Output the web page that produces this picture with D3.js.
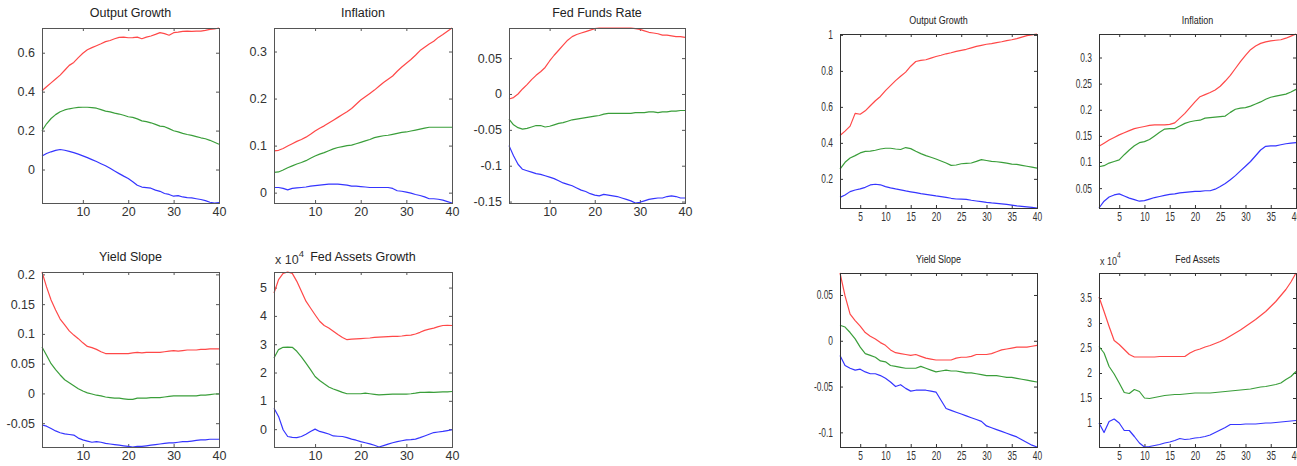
<!DOCTYPE html>
<html>
<head>
<meta charset="utf-8">
<script src="https://cdn.jsdelivr.net/npm/d3@7/dist/d3.min.js"></script>
<style>
  html, body { margin: 0; padding: 0; background: #fff; }
  svg { display: block; }
</style>
</head>
<body>
<svg id="chart" width="1297" height="466"></svg>
<script>
// impulse responses, horizons 1..40 -- upper band / median / lower band
const horizons = d3.range(1, 41)

// left block
const outHiA = [0.405, 0.425, 0.445, 0.465, 0.485, 0.51, 0.535, 0.55, 0.575, 0.597, 0.615, 0.626, 0.636, 0.646, 0.657, 0.663, 0.672, 0.679, 0.68, 0.677, 0.678, 0.68, 0.672, 0.68, 0.686, 0.694, 0.703, 0.698, 0.69, 0.703, 0.706, 0.71, 0.711, 0.71, 0.711, 0.711, 0.715, 0.72, 0.722, 0.727]
const outMdA = [0.199, 0.235, 0.262, 0.282, 0.297, 0.306, 0.312, 0.316, 0.319, 0.32, 0.32, 0.318, 0.315, 0.308, 0.3, 0.296, 0.29, 0.285, 0.279, 0.271, 0.268, 0.26, 0.25, 0.246, 0.24, 0.232, 0.223, 0.22, 0.21, 0.199, 0.193, 0.186, 0.18, 0.175, 0.169, 0.163, 0.158, 0.15, 0.14, 0.13]
const outLoA = [0.069, 0.082, 0.091, 0.098, 0.103, 0.099, 0.093, 0.087, 0.079, 0.07, 0.061, 0.051, 0.041, 0.03, 0.019, 0.006, -0.008, -0.021, -0.034, -0.046, -0.063, -0.081, -0.09, -0.093, -0.096, -0.106, -0.112, -0.123, -0.128, -0.137, -0.134, -0.141, -0.144, -0.146, -0.15, -0.154, -0.16, -0.168, -0.172, -0.17]

const infHiA = [0.089, 0.09, 0.094, 0.099, 0.104, 0.109, 0.113, 0.118, 0.124, 0.131, 0.137, 0.142, 0.148, 0.154, 0.16, 0.166, 0.172, 0.179, 0.188, 0.197, 0.204, 0.211, 0.218, 0.226, 0.234, 0.241, 0.248, 0.258, 0.267, 0.275, 0.283, 0.292, 0.302, 0.309, 0.316, 0.322, 0.33, 0.336, 0.343, 0.35]
const infMdA = [0.043, 0.044, 0.048, 0.053, 0.057, 0.061, 0.064, 0.068, 0.073, 0.078, 0.082, 0.085, 0.089, 0.093, 0.096, 0.098, 0.1, 0.101, 0.104, 0.107, 0.11, 0.113, 0.117, 0.119, 0.121, 0.122, 0.124, 0.126, 0.128, 0.129, 0.131, 0.133, 0.135, 0.137, 0.139, 0.139, 0.139, 0.139, 0.139, 0.139]
const infLoA = [0.011, 0.011, 0.009, 0.006, 0.009, 0.01, 0.011, 0.012, 0.014, 0.015, 0.016, 0.017, 0.018, 0.018, 0.018, 0.017, 0.016, 0.014, 0.014, 0.013, 0.012, 0.011, 0.011, 0.011, 0.011, 0.011, 0.009, 0.004, 0.003, 0.001, -0.001, -0.004, -0.006, -0.009, -0.013, -0.013, -0.014, -0.016, -0.019, -0.022]

const ffrHiA = [-0.007, -0.005, 0.0, 0.007, 0.013, 0.02, 0.026, 0.031, 0.037, 0.046, 0.054, 0.061, 0.068, 0.075, 0.08, 0.083, 0.085, 0.087, 0.089, 0.091, 0.092, 0.092, 0.092, 0.092, 0.092, 0.092, 0.092, 0.092, 0.091, 0.09, 0.088, 0.086, 0.085, 0.084, 0.082, 0.082, 0.081, 0.08, 0.08, 0.079]
const ffrMdA = [-0.035, -0.043, -0.047, -0.049, -0.048, -0.046, -0.044, -0.044, -0.046, -0.045, -0.043, -0.041, -0.04, -0.038, -0.036, -0.035, -0.034, -0.033, -0.032, -0.031, -0.03, -0.028, -0.027, -0.027, -0.027, -0.027, -0.027, -0.027, -0.026, -0.026, -0.026, -0.025, -0.025, -0.026, -0.025, -0.025, -0.024, -0.024, -0.023, -0.023]
const ffrLoA = [-0.072, -0.086, -0.098, -0.105, -0.107, -0.109, -0.111, -0.112, -0.114, -0.116, -0.118, -0.121, -0.124, -0.126, -0.128, -0.131, -0.134, -0.136, -0.139, -0.141, -0.142, -0.14, -0.141, -0.142, -0.143, -0.145, -0.147, -0.149, -0.152, -0.151, -0.149, -0.147, -0.146, -0.145, -0.145, -0.143, -0.142, -0.143, -0.145, -0.145]

const slpHiA = [0.204, 0.179, 0.157, 0.14, 0.125, 0.115, 0.105, 0.098, 0.092, 0.085, 0.079, 0.077, 0.074, 0.07, 0.067, 0.067, 0.067, 0.067, 0.067, 0.067, 0.068, 0.069, 0.068, 0.069, 0.069, 0.069, 0.069, 0.07, 0.071, 0.072, 0.071, 0.072, 0.073, 0.073, 0.073, 0.074, 0.074, 0.075, 0.075, 0.075]
const slpMdA = [0.078, 0.064, 0.05, 0.04, 0.031, 0.023, 0.018, 0.013, 0.008, 0.004, 0.001, -0.001, -0.003, -0.004, -0.006, -0.007, -0.008, -0.008, -0.009, -0.01, -0.01, -0.008, -0.008, -0.008, -0.007, -0.007, -0.007, -0.006, -0.005, -0.004, -0.004, -0.004, -0.004, -0.004, -0.004, -0.003, -0.003, -0.002, -0.001, -0.001]
const slpLoA = [-0.053, -0.055, -0.059, -0.063, -0.066, -0.068, -0.069, -0.07, -0.075, -0.078, -0.08, -0.082, -0.081, -0.082, -0.084, -0.085, -0.086, -0.087, -0.088, -0.089, -0.09, -0.089, -0.089, -0.088, -0.087, -0.086, -0.085, -0.084, -0.083, -0.083, -0.082, -0.081, -0.081, -0.08, -0.079, -0.078, -0.078, -0.077, -0.077, -0.077]

const fedHiA = [4.81, 5.28, 5.5, 5.55, 5.5, 5.22, 4.87, 4.52, 4.28, 4.04, 3.81, 3.66, 3.57, 3.46, 3.34, 3.24, 3.16, 3.18, 3.19, 3.2, 3.21, 3.22, 3.24, 3.25, 3.26, 3.27, 3.28, 3.28, 3.29, 3.31, 3.32, 3.36, 3.42, 3.49, 3.53, 3.57, 3.62, 3.66, 3.67, 3.66]
const fedMdA = [2.51, 2.81, 2.89, 2.9, 2.89, 2.75, 2.55, 2.33, 2.1, 1.86, 1.72, 1.6, 1.49, 1.42, 1.36, 1.3, 1.25, 1.25, 1.25, 1.25, 1.27, 1.25, 1.23, 1.21, 1.22, 1.23, 1.24, 1.24, 1.24, 1.24, 1.25, 1.27, 1.3, 1.3, 1.31, 1.3, 1.31, 1.32, 1.32, 1.33]
const fedLoA = [0.74, 0.45, -0.02, -0.26, -0.29, -0.3, -0.26, -0.18, -0.08, 0.0, -0.08, -0.12, -0.17, -0.24, -0.25, -0.26, -0.3, -0.35, -0.39, -0.44, -0.48, -0.52, -0.57, -0.63, -0.58, -0.53, -0.48, -0.44, -0.41, -0.38, -0.37, -0.35, -0.3, -0.24, -0.18, -0.12, -0.1, -0.08, -0.05, -0.02]

// right block
const outHiB = [0.441, 0.465, 0.493, 0.564, 0.559, 0.578, 0.606, 0.634, 0.658, 0.69, 0.718, 0.746, 0.77, 0.793, 0.826, 0.852, 0.858, 0.862, 0.871, 0.88, 0.887, 0.895, 0.901, 0.908, 0.914, 0.92, 0.928, 0.936, 0.942, 0.948, 0.952, 0.957, 0.962, 0.968, 0.973, 0.979, 0.988, 0.996, 1.0, 1.005]
const outMdB = [0.254, 0.292, 0.316, 0.329, 0.344, 0.353, 0.354, 0.359, 0.366, 0.37, 0.37, 0.366, 0.363, 0.374, 0.368, 0.353, 0.34, 0.329, 0.32, 0.31, 0.299, 0.288, 0.275, 0.277, 0.284, 0.286, 0.288, 0.297, 0.307, 0.302, 0.297, 0.295, 0.292, 0.287, 0.282, 0.28, 0.275, 0.27, 0.265, 0.26]
const outLoB = [0.097, 0.11, 0.129, 0.138, 0.144, 0.153, 0.166, 0.17, 0.167, 0.157, 0.15, 0.144, 0.139, 0.133, 0.128, 0.123, 0.118, 0.114, 0.11, 0.105, 0.101, 0.097, 0.092, 0.088, 0.087, 0.086, 0.081, 0.077, 0.073, 0.069, 0.066, 0.064, 0.061, 0.058, 0.054, 0.05, 0.047, 0.044, 0.041, 0.038]

const infHiB = [0.13, 0.136, 0.142, 0.147, 0.152, 0.156, 0.16, 0.164, 0.166, 0.168, 0.17, 0.171, 0.171, 0.171, 0.172, 0.175, 0.184, 0.193, 0.204, 0.215, 0.225, 0.229, 0.233, 0.238, 0.245, 0.255, 0.266, 0.279, 0.292, 0.304, 0.315, 0.322, 0.327, 0.33, 0.332, 0.333, 0.334, 0.337, 0.341, 0.345]
const infMdB = [0.091, 0.093, 0.098, 0.101, 0.104, 0.114, 0.123, 0.131, 0.137, 0.139, 0.143, 0.15, 0.157, 0.163, 0.164, 0.164, 0.169, 0.174, 0.177, 0.179, 0.18, 0.184, 0.185, 0.186, 0.187, 0.188, 0.195, 0.201, 0.203, 0.204, 0.207, 0.211, 0.215, 0.22, 0.224, 0.226, 0.228, 0.23, 0.234, 0.239]
const infLoB = [0.012, 0.025, 0.033, 0.037, 0.039, 0.035, 0.031, 0.028, 0.025, 0.026, 0.029, 0.032, 0.034, 0.036, 0.038, 0.039, 0.041, 0.042, 0.043, 0.044, 0.044, 0.045, 0.045, 0.048, 0.053, 0.059, 0.066, 0.074, 0.083, 0.092, 0.101, 0.112, 0.123, 0.13, 0.131, 0.131, 0.133, 0.135, 0.136, 0.137]

const slpHiB = [0.074, 0.049, 0.029, 0.022, 0.016, 0.009, 0.005, 0.002, -0.002, -0.005, -0.01, -0.013, -0.014, -0.015, -0.016, -0.015, -0.017, -0.019, -0.02, -0.021, -0.021, -0.021, -0.021, -0.019, -0.018, -0.018, -0.017, -0.015, -0.015, -0.015, -0.014, -0.012, -0.01, -0.009, -0.008, -0.007, -0.007, -0.007, -0.006, -0.005]
const slpMdB = [0.017, 0.015, 0.009, 0.002, -0.007, -0.014, -0.016, -0.018, -0.022, -0.023, -0.027, -0.028, -0.029, -0.03, -0.03, -0.03, -0.028, -0.03, -0.032, -0.034, -0.033, -0.032, -0.033, -0.033, -0.034, -0.035, -0.035, -0.036, -0.037, -0.038, -0.038, -0.038, -0.039, -0.04, -0.04, -0.041, -0.042, -0.043, -0.044, -0.045]
const slpLoB = [-0.016, -0.027, -0.03, -0.032, -0.031, -0.034, -0.036, -0.036, -0.038, -0.041, -0.045, -0.05, -0.048, -0.052, -0.055, -0.054, -0.054, -0.054, -0.055, -0.056, -0.065, -0.074, -0.076, -0.078, -0.08, -0.082, -0.084, -0.086, -0.088, -0.093, -0.095, -0.097, -0.099, -0.101, -0.103, -0.105, -0.108, -0.111, -0.114, -0.116]

const fedHiB = [3.52, 3.23, 2.93, 2.65, 2.57, 2.47, 2.37, 2.32, 2.32, 2.32, 2.32, 2.32, 2.33, 2.33, 2.33, 2.33, 2.33, 2.33, 2.4, 2.45, 2.48, 2.52, 2.55, 2.59, 2.63, 2.68, 2.74, 2.8, 2.86, 2.93, 3.0, 3.07, 3.15, 3.23, 3.33, 3.43, 3.55, 3.67, 3.82, 4.0]
const fedMdB = [2.53, 2.4, 2.13, 1.98, 1.8, 1.61, 1.59, 1.67, 1.63, 1.5, 1.49, 1.51, 1.53, 1.55, 1.56, 1.57, 1.57, 1.58, 1.59, 1.6, 1.6, 1.6, 1.6, 1.61, 1.62, 1.63, 1.64, 1.65, 1.66, 1.67, 1.68, 1.7, 1.72, 1.73, 1.75, 1.77, 1.8, 1.87, 1.93, 2.03]
const fedLoB = [1.0, 0.81, 1.03, 1.08, 1.0, 0.85, 0.85, 0.73, 0.6, 0.52, 0.53, 0.55, 0.57, 0.6, 0.62, 0.65, 0.69, 0.67, 0.68, 0.7, 0.71, 0.73, 0.76, 0.81, 0.86, 0.91, 0.97, 0.97, 0.97, 0.98, 0.98, 0.98, 0.99, 1.0, 1.0, 1.01, 1.02, 1.03, 1.04, 1.05]

// tick labels
const xTicksA = [10, 20, 30, 40]
const xTicksB = [5, 10, 15, 20, 25, 30, 35, 40]
const yTicksOutA = [0, 0.2, 0.4, 0.6]
const yTicksInfA = [0, 0.1, 0.2, 0.3]
const yTicksFfrA = [-0.15, -0.1, -0.05, 0, 0.05]
const yTicksSlpA = [-0.05, 0, 0.05, 0.1, 0.15, 0.2]
const yTicksFedA = [0, 1, 2, 3, 4, 5]
const yTicksOutB = [0.2, 0.4, 0.6, 0.8, 1]
const yTicksInfB = [0.05, 0.1, 0.15, 0.2, 0.25, 0.3]
const yTicksSlpB = [-0.1, -0.05, 0, 0.05]
const yTicksFedB = [1, 1.5, 2, 2.5, 3, 3.5]

const colors = ['#ff4848', '#3a9e3a', '#3535ff']

// left block is regular Arial-ish, right block was squeezed horizontally
const styleA = { font: 'Liberation Sans, Arial, sans-serif', size: 12.5, titleSize: 12.5, titleGap: 11, labelGap: 15, sx: 1, tsx: 1, box: '#555' }
const styleB = { font: 'Liberation Sans, Arial, sans-serif', size: 12, titleSize: 11.5, titleGap: 10, labelGap: 15, sx: 0.7, tsx: 0.78, box: '#333' }

const panels = [
  { title: 'Output Growth', x: 42, y: 28, w: 177, h: 175, st: styleA, xt: xTicksA, yt: yTicksOutA, s: [outHiA, outMdA, outLoA] },
  { title: 'Inflation', x: 274, y: 28, w: 178, h: 175, st: styleA, xt: xTicksA, yt: yTicksInfA, s: [infHiA, infMdA, infLoA] },
  { title: 'Fed Funds Rate', x: 509, y: 28, w: 176, h: 175, st: styleA, xt: xTicksA, yt: yTicksFfrA, s: [ffrHiA, ffrMdA, ffrLoA] },
  { title: 'Yield Slope', x: 42, y: 272, w: 177, h: 175, st: styleA, xt: xTicksA, yt: yTicksSlpA, s: [slpHiA, slpMdA, slpLoA] },
  { title: 'Fed Assets Growth', x: 274, y: 272, w: 178, h: 175, st: styleA, xt: xTicksA, yt: yTicksFedA, s: [fedHiA, fedMdA, fedLoA], exp: true },
  { title: 'Output Growth', x: 840, y: 34, w: 197, h: 174, st: styleB, xt: xTicksB, yt: yTicksOutB, s: [outHiB, outMdB, outLoB] },
  { title: 'Inflation', x: 1099, y: 34, w: 197, h: 174, st: styleB, xt: xTicksB, yt: yTicksInfB, s: [infHiB, infMdB, infLoB] },
  { title: 'Yield Slope', x: 840, y: 273, w: 197, h: 174, st: styleB, xt: xTicksB, yt: yTicksSlpB, s: [slpHiB, slpMdB, slpLoB] },
  { title: 'Fed Assets', x: 1099, y: 273, w: 197, h: 174, st: styleB, xt: xTicksB, yt: yTicksFedB, s: [fedHiB, fedMdB, fedLoB], exp: true }
]

const svg = d3.select('#chart')

// squeeze a text horizontally around its own x anchor
function squeeze(sel, sx) {
  if (sx === 1) return
  sel.attr('transform', function() {
    const ax = +(this.getAttribute('x') || 0)
    return 'translate(' + ax + ',0) scale(' + sx + ',1) translate(' + (-ax) + ',0)'
  })
}

panels.forEach(function(p) {
  const g = svg.append('g').attr('transform', 'translate(' + p.x + ',' + p.y + ')')
    .style('font-family', p.st.font)
    .style('font-size', p.st.size + 'px')

  // axis tight, like matlab
  const all = d3.merge(p.s)
  const x = d3.scaleLinear().domain([1, 40]).range([0, p.w])
  const y = d3.scaleLinear().domain(d3.extent(all)).range([p.h, 0])

  const fmt = function(d) { return String(d) }

  const left = g.append('g').call(d3.axisLeft(y).tickValues(p.yt).tickSize(-3).tickPadding(7).tickFormat(fmt))
  const bottom = g.append('g').attr('transform', 'translate(0,' + p.h + ')')
    .call(d3.axisBottom(x).tickValues(p.xt).tickSize(-3).tickPadding(p.st.labelGap - 11).tickFormat(fmt))
  const right = g.append('g').attr('transform', 'translate(' + p.w + ',0)')
    .call(d3.axisRight(y).tickValues(p.yt).tickSize(-3).tickFormat(''))
  const top = g.append('g')
    .call(d3.axisTop(x).tickValues(p.xt).tickSize(-3).tickFormat(''))

  ;[left, bottom, right, top].forEach(function(a) {
    a.select('.domain').remove()
    a.attr('font-family', null).attr('font-size', null)
    a.selectAll('line').attr('stroke', p.st.box)
    a.selectAll('text').attr('fill', '#333').call(squeeze, p.st.sx)
  })

  const line = d3.line()
    .x(function(d, i) { return x(horizons[i]) })
    .y(function(d) { return y(d) })

  g.selectAll('.irf')
    .data(p.s)
    .enter().append('path')
    .attr('class', 'irf')
    .attr('fill', 'none')
    .attr('stroke', function(d, i) { return colors[i] })
    .attr('stroke-width', 1.2)
    .attr('stroke-linejoin', 'round')
    .attr('d', line)

  g.append('rect')
    .attr('width', p.w).attr('height', p.h)
    .attr('fill', 'none').attr('stroke', p.st.box).attr('stroke-width', 1)
    .attr('shape-rendering', 'crispEdges')

  g.append('text')
    .attr('x', p.w / 2).attr('y', -p.st.titleGap)
    .attr('text-anchor', 'middle')
    .attr('fill', '#222')
    .style('font-size', p.st.titleSize + 'px')
    .text(p.title)
    .call(squeeze, p.st.tsx)

  if (p.exp) {
    const e = g.append('text').attr('x', 1).attr('y', -8).attr('fill', '#333')
      .style('font-size', p.st.titleSize + 'px')
    e.append('tspan').text('x 10')
    e.append('tspan').attr('dy', -7).style('font-size', (p.st.titleSize - 3) + 'px').text('4')
    e.call(squeeze, p.st.tsx)
  }
})
</script>
</body>
</html>
